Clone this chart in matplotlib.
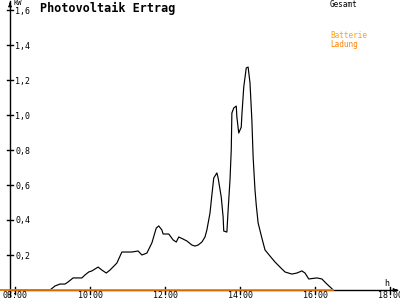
import matplotlib
matplotlib.use("Agg")
import matplotlib.pyplot as plt

# minutes after 08:00 and power in kW (Gesamt)
minutes = [-40, 56, 64, 72, 80, 85, 93, 99, 107, 112, 118, 123, 133, 139, 146, 152,
           163, 171, 187, 197, 203, 211, 219, 226, 230, 235, 237, 246, 253, 258,
           262, 269, 275, 283, 288, 293, 299, 304, 307, 312, 315, 318, 323, 325,
           330, 333, 334, 339, 341, 344, 346, 347, 350, 354, 355, 358, 362, 363,
           366, 370, 373, 376, 379, 381, 384, 386, 389, 395, 400, 408, 416, 424,
           432, 443, 451, 459, 464, 470, 483, 491, 499, 506, 509]
gesamt = [0, 0, 0.023, 0.034, 0.034, 0.046, 0.069, 0.069, 0.069, 0.086, 0.103, 0.109,
          0.131, 0.114, 0.097, 0.114, 0.154, 0.217, 0.217, 0.223, 0.2, 0.211, 0.269,
          0.354, 0.366, 0.343, 0.32, 0.32, 0.286, 0.274, 0.303, 0.291, 0.28, 0.257,
          0.251, 0.257, 0.274, 0.303, 0.343, 0.44, 0.543, 0.64, 0.669, 0.64, 0.531,
          0.417, 0.337, 0.331, 0.457, 0.629, 0.8, 1.011, 1.04, 1.051, 0.989, 0.897,
          0.931, 1.0, 1.16, 1.269, 1.274, 1.183, 0.971, 0.76, 0.571, 0.486, 0.383,
          0.297, 0.229, 0.194, 0.16, 0.131, 0.103, 0.091, 0.097, 0.109, 0.097, 0.063,
          0.069, 0.063, 0.034, 0.011, 0]
# Batterie Ladung (kW)
ladung = [0.0] * len(minutes)

y_ticks = [0.2, 0.4, 0.6, 0.8, 1.0, 1.2, 1.4, 1.6]
y_labels = ["0,2", "0,4", "0,6", "0,8", "1,0", "1,2", "1,4", "1,6"]
x_ticks = [8, 10, 12, 14, 16, 18]
x_labels = ["08:00", "10:00", "12:00", "14:00", "16:00", "18:00"]

hours = [8 + m / 60 for m in minutes]

W, H = 400, 300
fig = plt.figure(figsize=(4, 3), dpi=100)
ax = fig.add_axes([0, 0, 1, 1])
ax.set_axis_off()

# pixel geometry
def tx(px):
    return 8 + (px - 15) / 37.5

def vy(py):
    return (290 - py) / 175

ax.set_xlim(tx(0), tx(W))
ax.set_ylim(vy(H), vy(0))

mono = "DejaVu Sans Mono"

# curves
ax.plot(hours, gesamt, color="black", lw=0.85, zorder=3)
ax.plot(hours, ladung, color="#ff8000", lw=1.2, zorder=4)

# axes lines
ax.plot([tx(10), tx(397)], [0, 0], color="black", lw=1.0, zorder=2)
ax.plot([tx(10), tx(10)], [vy(296), vy(1)], color="black", lw=1.0, zorder=2)
ax.annotate("", xy=(tx(10), vy(0)), xytext=(tx(10), vy(6)),
            arrowprops=dict(arrowstyle="-|>", color="black", lw=0.8,
                            mutation_scale=5), zorder=5)
ax.annotate("", xy=(tx(400), 0), xytext=(tx(394), 0),
            arrowprops=dict(arrowstyle="-|>", color="black", lw=0.8,
                            mutation_scale=5), zorder=5)

# y ticks
for v, lab in zip(y_ticks, y_labels):
    ax.plot([tx(7), tx(13)], [v, v], color="black", lw=1.0)
    ax.text(tx(15), vy((290 - v * 175) + 1), lab, fontsize=6, family=mono,
            ha="left", va="center")
ax.text(tx(13), vy(3), "KW", fontsize=5, family=mono, ha="left", va="center")

# x ticks
for t, lab in zip(x_ticks, x_labels):
    ax.plot([t, t], [vy(287), vy(294)], color="black", lw=1.0)
    ax.text(t, vy(296), lab, fontsize=6, family=mono, ha="center", va="center")
ax.text(tx(387), vy(283), "h", fontsize=6, family=mono, ha="center", va="center")

# title and legend
fig.text(40 / W, 1 - 8 / H, "Photovoltaik Ertrag", fontsize=8.5, family=mono,
         weight="bold", ha="left", va="center")
fig.text(330 / W, 1 - 4.5 / H, "Gesamt", fontsize=5.5, family=mono,
         ha="left", va="center", color="black")
fig.text(330 / W, 1 - 36 / H, "Batterie", fontsize=5.5, family=mono,
         ha="left", va="center", color="#ffa500")
fig.text(330 / W, 1 - 44 / H, "Ladung", fontsize=5.5, family=mono,
         ha="left", va="center", color="#ff8000")

fig.savefig("out.png", dpi=100)
